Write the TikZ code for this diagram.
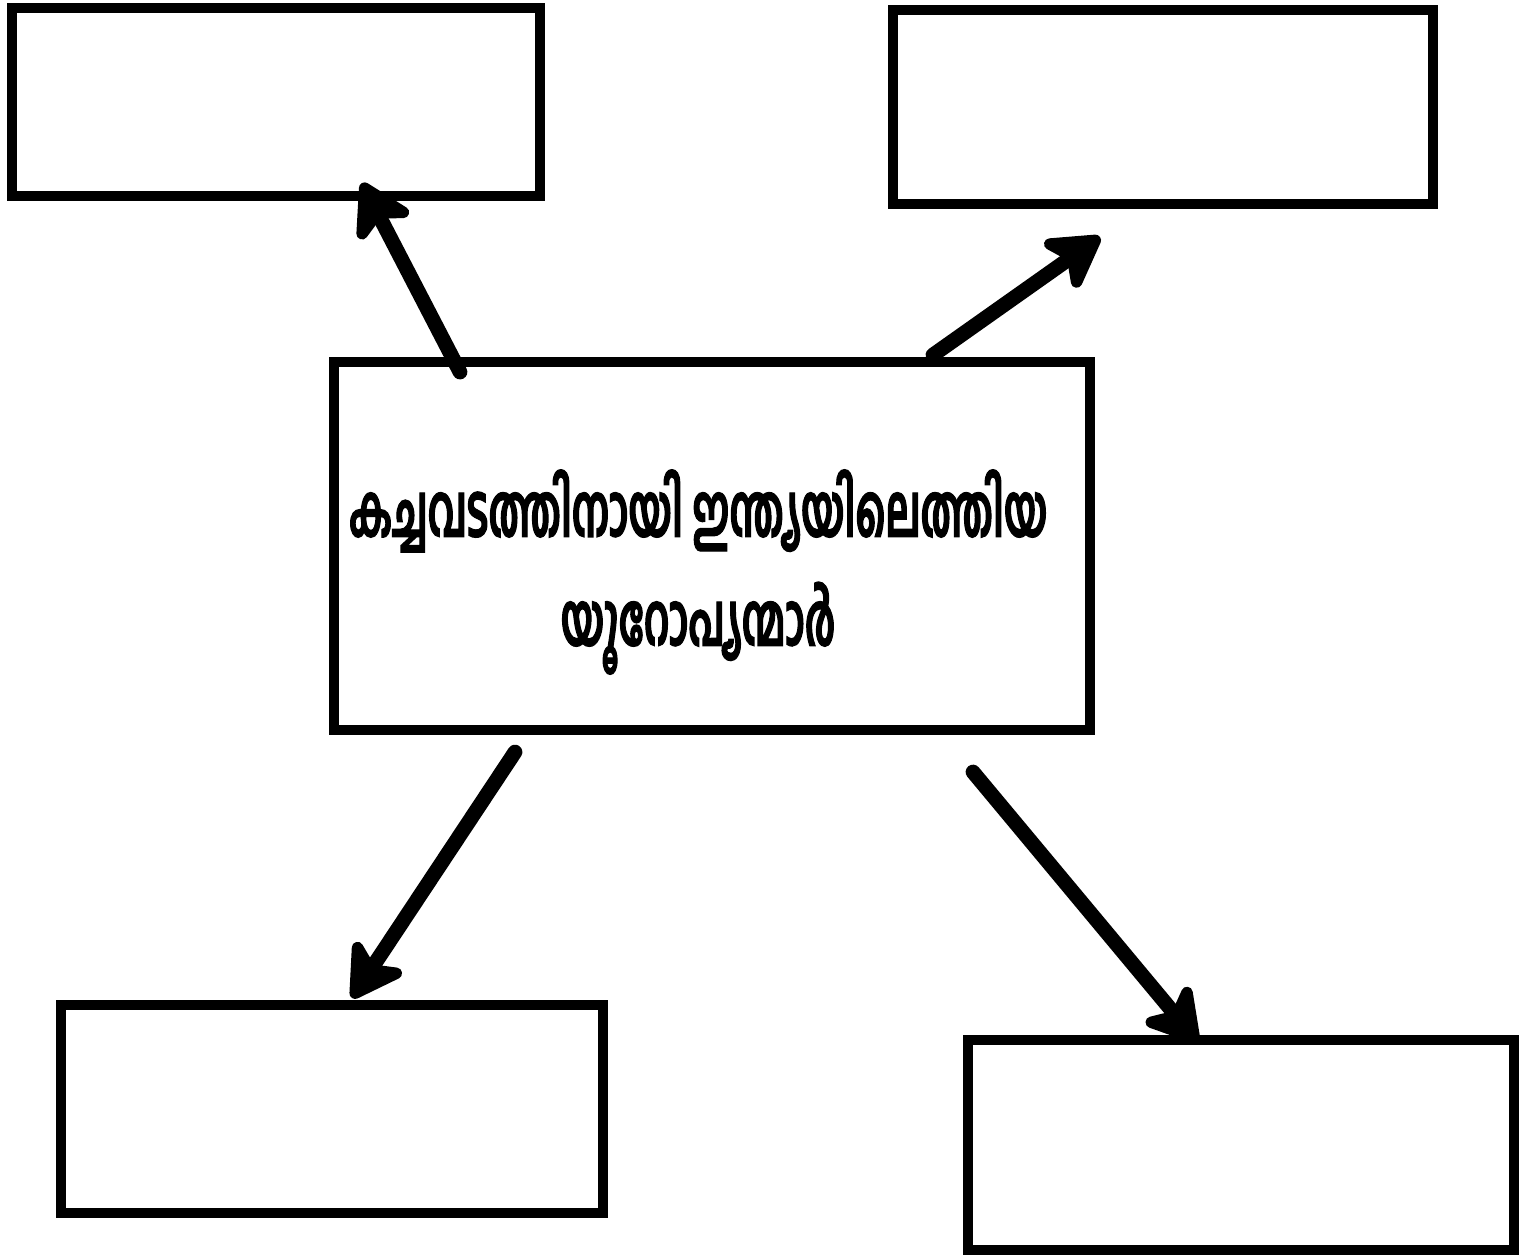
\documentclass[tikz,border=0pt]{standalone}
\usepackage{fontspec}
\newfontfamily\mlfont[Script=Malayalam, FakeStretch=0.53, FakeBold=1.5]{Hind Kochi}
\usetikzlibrary{arrows.meta}
\tikzset{>={Stealth[length=18pt,width=21pt,inset=5pt,round]}}
\tikzset{box/.style={draw, line width=2.9pt, inner sep=0pt, fill=white},
         arr/.style={->, line width=4.2pt, line cap=round}}

\begin{document}
\begin{tikzpicture}[x=0.01cm, y=-0.01cm]
\useasboundingbox (0,0) rectangle (1527,1259);
% central box
\node[box, minimum width=7.55cm, minimum height=3.68cm] (centre) at (712,546) {};
\node[align=center, font=\mlfont\bfseries\fontsize{21}{31}\selectfont] (title) at (698,572)
      {കച്ചവടത്തിനായി ഇന്ത്യയിലെത്തിയ\\യൂറോപ്യന്മാർ};
% empty boxes
\node[box, minimum width=5.28cm, minimum height=1.88cm] (tl) at (276,102) {};
\node[box, minimum width=5.40cm, minimum height=1.94cm] (tr) at (1163,107) {};
\node[box, minimum width=5.41cm, minimum height=2.08cm] (bl) at (332,1109) {};
\node[box, minimum width=5.46cm, minimum height=2.10cm] (br) at (1241,1145) {};
%%%%
\coordinate (s1) at (460,372); \coordinate (e1) at (362,183);
\coordinate (s2) at (933,355); \coordinate (e2) at (1100,237);
\coordinate (s3) at (515,752); \coordinate (e3) at (352,998);
\coordinate (s4) at (973,772); \coordinate (e4) at (1198,1042);
\draw[arr] (s1) -- (e1);
\draw[arr] (s2) -- (e2);
\draw[arr] (s3) -- (e3);
\draw[arr] (s4) -- (e4);
\end{tikzpicture}
\end{document}
